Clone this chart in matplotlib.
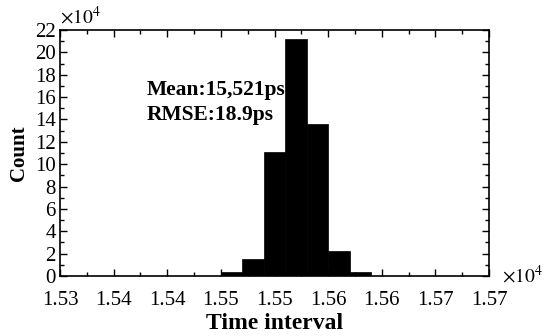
import numpy as np
import matplotlib
matplotlib.use("Agg")
import matplotlib.pyplot as plt
from matplotlib.ticker import MultipleLocator

# histogram data (bin left edges in ps, counts in units of 1e4)
bin_edges = [15450, 15470, 15490, 15510, 15530, 15550, 15570, 15590]
counts = [0.4, 1.5, 11.1, 21.2, 13.6, 2.2, 0.4]

x_ticks = [15300, 15350, 15400, 15450, 15500, 15550, 15600, 15650, 15700]
x_tick_labels = ["1.53", "1.54", "1.54", "1.55", "1.55", "1.56", "1.56", "1.57", "1.57"]
y_ticks = list(range(0, 23, 2))

plt.rcParams["font.family"] = "Liberation Serif"
plt.rcParams["mathtext.fontset"] = "stix"

fig = plt.figure(figsize=(5.5, 3.36), dpi=100)
ax = fig.add_axes([60 / 550, 60 / 336, 429 / 550, 246 / 336])

edges = np.array(bin_edges)
ax.bar(edges[:-1], np.array(counts) * 1e4, width=np.diff(edges), align="edge",
       color="black", edgecolor="black", linewidth=0.5)

ax.set_xlim(15300, 15700)
ax.set_ylim(0, 22e4)
ax.set_xticks(x_ticks)
ax.set_xticklabels(x_tick_labels)
ax.set_yticks([v * 1e4 for v in y_ticks])
ax.set_yticklabels([str(v) for v in y_ticks])
ax.xaxis.set_minor_locator(MultipleLocator(25))
ax.yaxis.set_minor_locator(MultipleLocator(1e4))

ax.tick_params(which="both", direction="in", top=True, right=True, labelsize=15,
               width=1, pad=3)
ax.tick_params(axis="x", which="major", pad=11)
ax.tick_params(which="major", length=5)
ax.tick_params(which="minor", length=3)
for sp in ax.spines.values():
    sp.set_linewidth(1.2)

ax.set_xlabel("Time interval", fontsize=17, fontweight="bold", labelpad=2)
ax.set_ylabel("Count", fontsize=15, fontweight="bold", labelpad=4)

ax.text(0.0, 1.01, r"$\times10^4$", transform=ax.transAxes, fontsize=14,
        ha="left", va="bottom")
ax.text(1.03, 0.0, r"$\times10^4$", transform=ax.transAxes, fontsize=14,
        ha="left", va="center")

ax.text(0.202, 0.755, "Mean:15,521ps", transform=ax.transAxes, fontsize=15.5,
        fontweight="bold", ha="left", va="center")
ax.text(0.202, 0.655, "RMSE:18.9ps", transform=ax.transAxes, fontsize=15.5,
        fontweight="bold", ha="left", va="center")

plt.savefig("out.png", dpi=100)
plt.close()
